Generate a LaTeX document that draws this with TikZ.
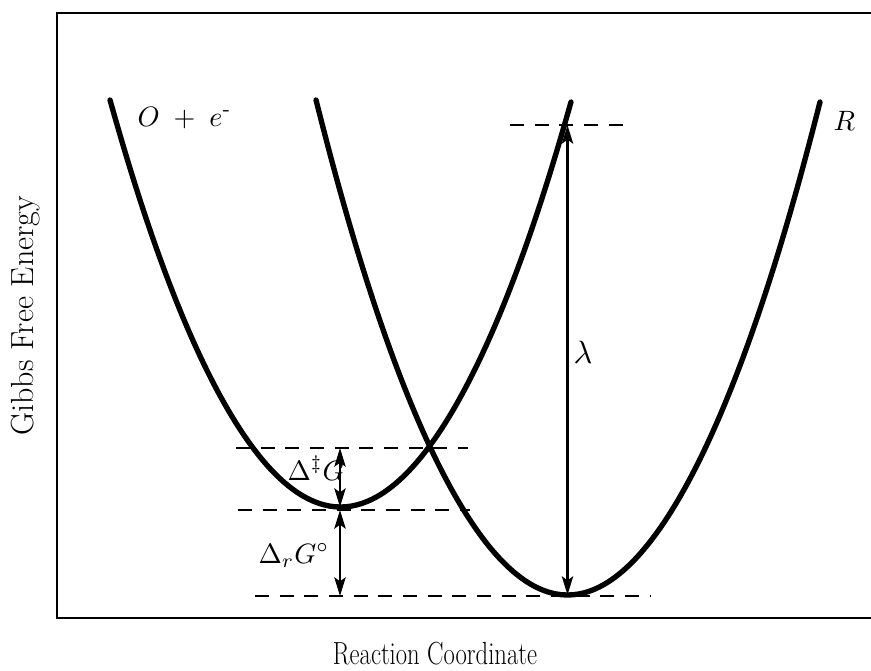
\documentclass[tikz,border=0pt]{standalone}
\usepackage{amsmath,amssymb}
\usepackage{tikz}
\usetikzlibrary{arrows.meta}

\begin{document}
\begin{tikzpicture}[
  x=0.75pt,y=-0.75pt,
  curve/.style={line width=4pt,line cap=round},
  level/.style={line width=2.2pt,dash pattern=on 10.5pt off 8pt},
  arr/.style={line width=1.7pt,>={Stealth[length=14pt,width=8.5pt,inset=3pt]},<->},
  lbl/.style={scale=2.1,inner sep=0pt},
  axis/.style={font=\fontsize{24}{29}\selectfont,inner sep=0pt}
]
\useasboundingbox (0,0) rectangle (871,671);

% ---- frame (open on the right) ----
\draw[line width=1.5pt] (875,13) -- (57,13) -- (57,618) -- (875,618);

% ---- the two free energy curves ----
\coordinate (oTop) at (110,100);
\coordinate (oMin) at (340.5,507);
\coordinate (oEnd) at (571,102);
\coordinate (rTop) at (316,100);
\coordinate (rMin) at (567.5,595);
\coordinate (rEnd) at (820,102);
\draw[curve] (oTop) parabola bend (oMin) (oEnd);
\draw[curve] (rTop) parabola bend (rMin) (rEnd);

% ---- energy levels ----
\coordinate (tsL) at (236,448);  \coordinate (tsR) at (468,448);
\coordinate (oL)  at (238,510);  \coordinate (oR)  at (470,510);
\coordinate (rL)  at (255,596);  \coordinate (rR)  at (650,596);
\coordinate (lamL) at (510,125); \coordinate (lamR) at (628,125);
\draw[level] (tsL) -- (tsR);
\draw[level] (oL) -- (oR);
\draw[level] (rL) -- (rR);
\draw[level] (lamL) -- (lamR);

% ---- gaps ----
\coordinate (ts)   at (340,448);
\coordinate (oBot) at (340,507);
\coordinate (oLev) at (340,510);
\coordinate (rLev) at (340,596);
\coordinate (lamTop) at (567.5,125);
\draw[arr] (ts) -- (oBot);
\draw[arr] (oLev) -- (rLev);
\draw[arr] (lamTop) -- (rMin);

% ---- labels ----
\node[lbl,anchor=base west] (oLbl) at (137,126) {$O\;+\;e^{\text{-}}$};
\node[lbl,anchor=base west] (rLbl) at (833,130) {$R$};
\node[lbl,anchor=base west,scale=1.15] (lamLbl) at (573,363) {$\lambda$};
\node[lbl,anchor=base west] (actLbl) at (287,480) {$\Delta^{\ddagger}G$};
\node[lbl,anchor=base west] (rxnLbl) at (258,563) {$\Delta_{r}G^{\circ}$};
\node[axis,anchor=base,xscale=0.77] (xLbl) at (435,664) {Reaction Coordinate};
\node[axis,rotate=90] (yLbl) at (26,316) {Gibbs Free Energy};
\end{tikzpicture}
\end{document}
